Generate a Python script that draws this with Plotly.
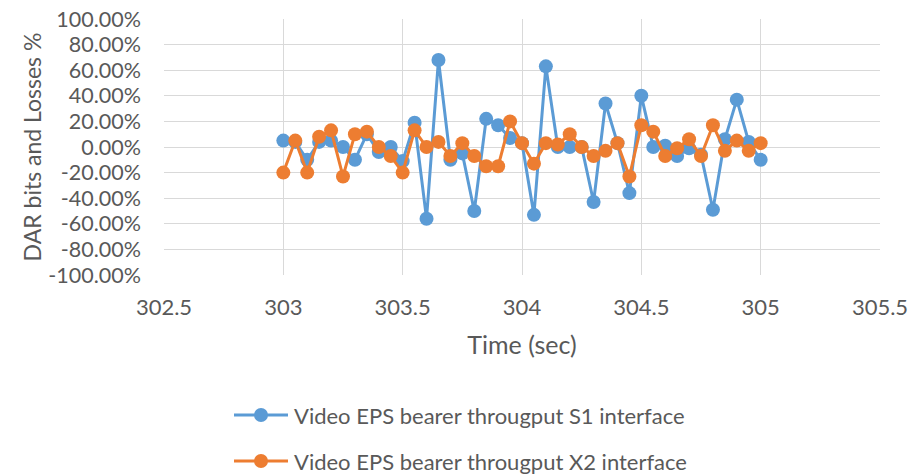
import plotly.graph_objects as go

# Sample times (s), 50 ms spacing
time_s = [round(303 + 0.05 * i, 2) for i in range(41)]

# DAR bits and losses (%) per interface
s1_pct = [5, 4, -10, 4, 5, 0, -10, 10, -4, 0, -11, 19, -56, 68, -10, -5, -50, 22, 17, 7,
          3, -53, 63, 0, 0, 0, -43, 34, 3, -36, 40, 0, 1, -7, -1, -6, -49, 6, 37, 4, -10]
x2_pct = [-20, 5, -20, 8, 13, -23, 10, 12, 0, -7, -20, 13, 0, 4, -7, 3, -7, -15, -15, 20,
          3, -13, 3, 2, 10, 0, -7, -3, 3, -23, 17, 12, -7, -1, 6, -7, 17, -3, 5, -3, 3]

series_names = ["Video EPS bearer througput S1 interface",
                "Video EPS bearer througput X2 interface"]
series_colors = ["#5B9BD5", "#ED7D31"]

y_tickvals = [-100, -80, -60, -40, -20, 0, 20, 40, 60, 80, 100]
y_ticktext = ["-100.00%", "-80.00%", "-60.00%", "-40.00%", "-20.00%", "0.00%",
              "20.00%", "40.00%", "60.00%", "80.00%", "100.00%"]
x_tickvals = [302.5, 303, 303.5, 304, 304.5, 305, 305.5]
x_ticktext = ["302.5", "303", "303.5", "304", "304.5", "305", "305.5"]

FONT = "Lato"
TEXT = "#595959"
GRID = "#d9d9d9"

W, H = 911, 474
ML, MR, MT, MB = 164, 31, 19, 199
PW, PH = W - ML - MR, H - MT - MB


def px_to_paper(px, py):
    """Convert page pixel position to paper coordinates of the plot area."""
    return (px - ML) / PW, (H - MB - py) / PH


fig = go.Figure()
for name, color, values in zip(series_names, series_colors, [s1_pct, x2_pct]):
    fig.add_trace(go.Scatter(
        x=time_s, y=values, mode="lines+markers", name=name,
        line=dict(color=color, width=3),
        marker=dict(color=color, size=14, line=dict(width=0)),
        showlegend=False,
    ))

# Legend below the chart: line-with-marker key followed by the series name
legend_rows_py = [415, 461]
key_x0, key_x1, text_x = 234, 288, 292
marker_r = 7
for name, color, row_py in zip(series_names, series_colors, legend_rows_py):
    lx0, ly = px_to_paper(key_x0, row_py)
    lx1, _ = px_to_paper(key_x1, row_py)
    cx, _ = px_to_paper((key_x0 + key_x1) / 2, row_py)
    fig.add_shape(type="line", xref="paper", yref="paper",
                  x0=lx0, x1=lx1, y0=ly, y1=ly,
                  line=dict(color=color, width=3))
    fig.add_shape(type="circle", xref="paper", yref="paper",
                  x0=cx - marker_r / PW, x1=cx + marker_r / PW,
                  y0=ly - marker_r / PH, y1=ly + marker_r / PH,
                  fillcolor=color, line=dict(width=0))
    tx, _ = px_to_paper(text_x, row_py)
    fig.add_annotation(text=name, xref="paper", yref="paper", x=tx, y=ly,
                       xanchor="left", yanchor="middle", showarrow=False,
                       font=dict(family=FONT, size=22, color=TEXT))

fig.update_layout(
    width=W, height=H,
    margin=dict(l=ML, r=MR, t=MT, b=MB),
    paper_bgcolor="white", plot_bgcolor="white",
    font=dict(family=FONT, size=22, color=TEXT),
    showlegend=False,
    xaxis=dict(
        range=[302.5, 305.5], tickvals=x_tickvals, ticktext=x_ticktext,
        tickfont=dict(family=FONT, size=22, color=TEXT),
        showgrid=True, gridcolor=GRID, gridwidth=1,
        zeroline=False, showline=False, ticks="", automargin=False,
        ticklabelstandoff=17,
        title=dict(text="Time (sec)", font=dict(family=FONT, size=25, color=TEXT), standoff=17),
    ),
    yaxis=dict(
        range=[-100, 100], tickvals=y_tickvals, ticktext=y_ticktext,
        tickfont=dict(family=FONT, size=21.5, color=TEXT),
        showgrid=True, gridcolor=GRID, gridwidth=1,
        zeroline=False, showline=False, ticks="", automargin=False,
        ticklabelstandoff=22,
        title=dict(text="DAR bits and Losses %", font=dict(family=FONT, size=23, color=TEXT), standoff=0),
    ),
)

fig.write_html("out.html")
